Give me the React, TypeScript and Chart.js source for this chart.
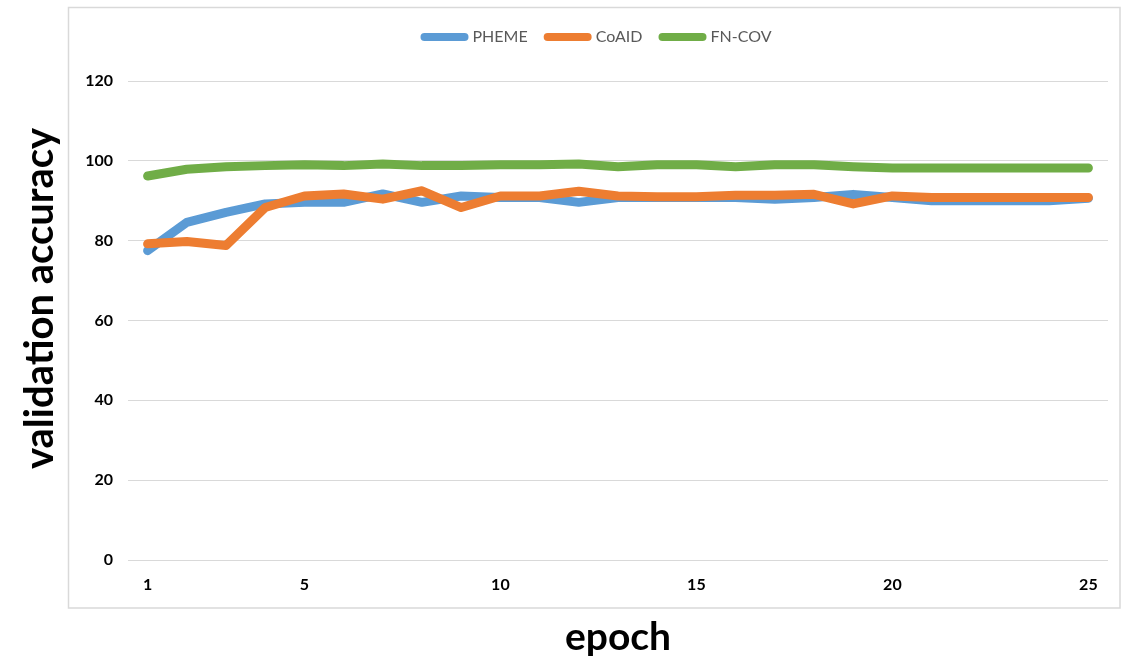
import React, { useEffect, useRef } from "react";
import { Chart, registerables } from "chart.js";

Chart.register(...registerables);

const epochs = ["1", "2", "3", "4", "5", "6", "7", "8", "9", "10", "11", "12", "13", "14", "15", "16", "17", "18", "19", "20", "21", "22", "23", "24", "25"];
const shownEpochs = ["1", "5", "10", "15", "20", "25"];
const seriesNames = ["PHEME", "CoAID", "FN-COV"];
const phemeAcc = [77.5, 84.6, 87.1, 89.2, 89.6, 89.6, 91.7, 89.6, 91.2, 90.8, 90.8, 89.6, 90.8, 90.8, 90.8, 90.8, 90.4, 90.8, 91.6, 90.8, 90.0, 90.0, 90.0, 90.0, 90.6];
const coaidAcc = [79.2, 79.8, 78.8, 88.3, 91.2, 91.7, 90.4, 92.5, 88.3, 91.2, 91.2, 92.4, 91.2, 91.0, 91.0, 91.4, 91.4, 91.6, 89.2, 91.2, 90.8, 90.8, 90.8, 90.8, 90.8];
const fncovAcc = [96.2, 97.9, 98.5, 98.8, 99.0, 98.8, 99.2, 98.8, 98.8, 99.0, 99.0, 99.2, 98.5, 99.0, 99.0, 98.5, 99.0, 99.0, 98.5, 98.2, 98.2, 98.2, 98.2, 98.2, 98.2];
const seriesColors = ["#5b9bd5", "#ed7d31", "#70ad47"];
const yMin = 0;
const yMax = 120;
const yStep = 20;
const xTitle = "epoch";
const yTitle = "validation accuracy";

const FONT = "Lato, 'Open Sans', 'DejaVu Sans', sans-serif";

const framePlugin = {
  id: "frameBox",
  beforeDraw(chart: any) {
    const { ctx, chartArea } = chart;
    ctx.save();
    ctx.strokeStyle = "#d9d9d9";
    ctx.lineWidth = 1.5;
    const l = chartArea.left - 59.5;
    const t = chartArea.top - 73.5;
    const r = chartArea.right + 12;
    const b = chartArea.bottom + 48;
    ctx.strokeRect(l, t, r - l, b - t);
    ctx.restore();
  },
};

const yTitlePlugin = {
  id: "yTitleText",
  afterDraw(chart: any) {
    const { ctx, chartArea } = chart;
    ctx.save();
    ctx.translate(chartArea.left - 88, (chartArea.top + chartArea.bottom) / 2 - 22);
    ctx.rotate(-Math.PI / 2);
    ctx.font = `bold 40px ${FONT}`;
    ctx.fillStyle = "#000000";
    ctx.textAlign = "center";
    ctx.textBaseline = "middle";
    ctx.fillText(yTitle, 0, 0);
    ctx.restore();
  },
};

const legendGapPlugin = {
  id: "legendGap",
  beforeInit(chart: any) {
    const legend = chart.legend;
    if (!legend) return;
    const origFit = legend.fit;
    legend.fit = function () {
      origFit.call(this);
      this.height += 26;
    };
  },
  afterLayout(chart: any) {
    const legend = chart.legend;
    if (!legend) return;
    legend.left += 44;
    legend.right += 44;
  },
};

export default function App() {
  const canvasRef = useRef<HTMLCanvasElement | null>(null);

  useEffect(() => {
    const canvas = canvasRef.current;
    if (!canvas) return;
    const seriesData = [phemeAcc, coaidAcc, fncovAcc];
    const chart = new Chart(canvas, {
      type: "line",
      data: {
        labels: epochs,
        datasets: seriesNames.map((name, i) => ({
          label: name,
          data: seriesData[i],
          borderColor: seriesColors[i],
          backgroundColor: seriesColors[i],
          borderWidth: 9,
          borderCapStyle: "round",
          borderJoinStyle: "round",
          pointRadius: 0,
          pointHoverRadius: 0,
          tension: 0,
          fill: false,
          order: seriesNames.length - i,
        })),
      },
      options: {
        responsive: false,
        animation: false,
        devicePixelRatio: 1,
        layout: { padding: { top: 9, right: 18, bottom: 0, left: 0 } },
        plugins: {
          tooltip: { enabled: false },
          legend: {
            display: true,
            position: "top",
            labels: {
              usePointStyle: true,
              pointStyle: "line",
              pointStyleWidth: 40,
              padding: 20,
              color: "#595959",
              font: { family: FONT, size: 16 },
              sort: (a: any, b: any) => a.datasetIndex - b.datasetIndex,
              generateLabels(chart: any) {
                const items = Chart.defaults.plugins.legend.labels.generateLabels(chart);
                return items.map((it: any) => ({ ...it, lineCap: "round", lineWidth: 8 }));
              },
            },
          },
        },
        scales: {
          x: {
            offset: true,
            afterFit(scale: any) {
              scale.height = 105;
            },
            grid: { display: false, drawTicks: false },
            border: { display: false },
            ticks: {
              autoSkip: false,
              maxRotation: 0,
              padding: 15,
              color: "#000000",
              font: { family: FONT, size: 16, weight: "bold" },
              callback(value: any) {
                const lbl = epochs[value as number];
                return shownEpochs.includes(lbl) ? lbl : "";
              },
            },
            title: {
              display: true,
              text: xTitle,
              color: "#000000",
              font: { family: FONT, size: 39, weight: "bold", lineHeight: 1.2 },
              padding: { top: 0, bottom: 4 },
            },
          },
          y: {
            min: yMin,
            max: yMax,
            afterFit(scale: any) {
              scale.width = 128;
            },
            grid: { color: "#d9d9d9", lineWidth: 1, drawTicks: false },
            border: { display: false },
            ticks: {
              stepSize: yStep,
              padding: 15,
              color: "#000000",
              font: { family: FONT, size: 16, weight: "bold" },
            },
          },
        },
      },
      plugins: [framePlugin, yTitlePlugin, legendGapPlugin],
    } as any);
    return () => chart.destroy();
  }, []);

  return (
    <div style={{ position: "absolute", left: 0, top: 0, width: 1126, height: 665, background: "#ffffff" }}>
      <canvas ref={canvasRef} width={1126} height={665} style={{ display: "block", width: 1126, height: 665 }} />
    </div>
  );
}
